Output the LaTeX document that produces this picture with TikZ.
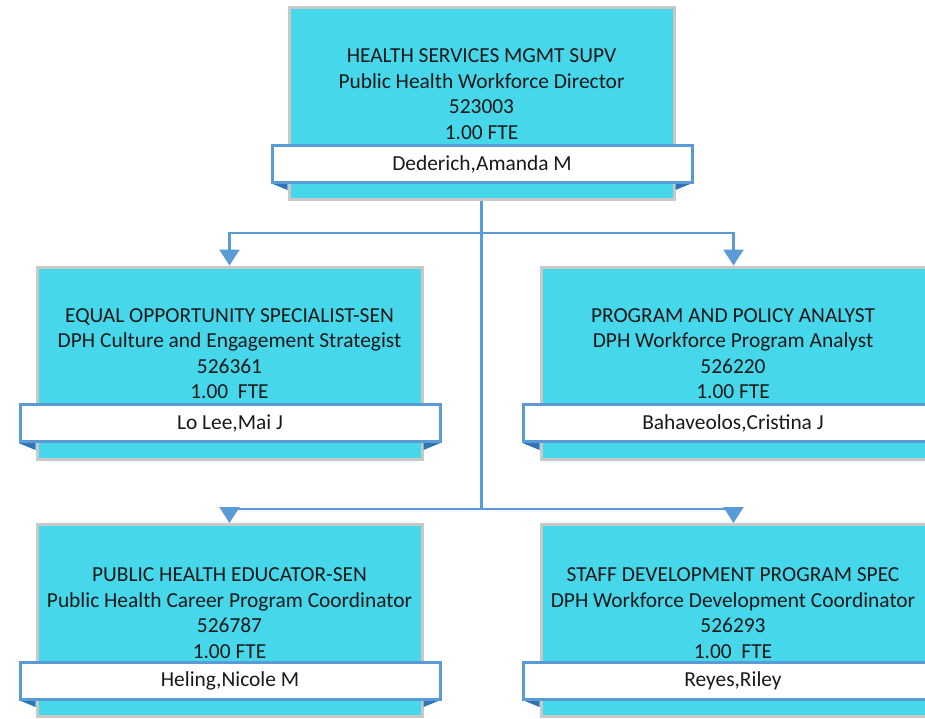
\documentclass[tikz,border=0pt]{standalone}
\usepackage{fontspec}
\setmainfont{Carlito}
\usetikzlibrary{arrows.meta}

\definecolor{boxcyan}{RGB}{70,215,235}
\definecolor{boxgray}{RGB}{200,200,200}
\definecolor{barblue}{RGB}{91,155,213}
\definecolor{folddark}{RGB}{46,117,182}

\tikzset{
  posbox/.style={draw=boxgray, fill=boxcyan, line width=3pt, minimum width=385pt, minimum height=192pt, inner sep=0pt},
  postext/.style={align=center, font=\fontsize{21.4}{25.5}\selectfont, text=black!90},
  namebar/.style={draw=barblue, fill=white, line width=3pt, minimum width=420pt, minimum height=37pt, inner sep=0pt, font=\fontsize{21.4}{25}\selectfont, text=black!90},
  fold/.style={fill=folddark},
  link/.style={draw=barblue, line width=2.5pt},
  linkarrow/.style={link, -{Triangle[width=20pt,length=16pt]}}
}

\begin{document}
\begin{tikzpicture}[x=1pt, y=-1pt]
\useasboundingbox (0,0) rectangle (925,718);

% boxes
\node[posbox] (H0) at (481.5, 103.5) {};
\node[posbox] (P1) at (229.5, 363) {};
\node[posbox] (P2) at (733.5, 363) {};
\node[posbox] (P3) at (229.5, 620.5) {};
\node[posbox] (P4) at (733.5, 620.5) {};

% titles
\node[postext] (T0) at (481.5, 94) {HEALTH SERVICES MGMT SUPV\\Public Health Workforce Director\\523003\\1.00 FTE};
\node[postext] (T1) at (229.5, 353.5) {EQUAL OPPORTUNITY SPECIALIST-SEN\\DPH Culture and Engagement Strategist\\526361\\1.00\ \ FTE};
\node[postext] (T2) at (733, 353.5) {PROGRAM AND POLICY ANALYST\\DPH Workforce Program Analyst\\526220\\1.00 FTE};
\node[postext] (T3) at (229.5, 613) {PUBLIC HEALTH EDUCATOR-SEN\\Public Health Career Program Coordinator\\526787\\1.00 FTE};
\node[postext] (T4) at (733, 613) {STAFF DEVELOPMENT PROGRAM SPEC\\DPH Workforce Development Coordinator\\526293\\1.00\ \ FTE};

% folds under the name bars
\foreach \b/\n/\y in {H0/N0/183, P1/N1/443, P2/N2/443, P3/N3/700, P4/N4/700} {
  \fill[fold] (\b.west |- 0,\y) -- ++(-17,0) -- ++(17,7) -- cycle;
  \fill[fold] (\b.east |- 0,\y) -- ++(17,0) -- ++(-17,7) -- cycle;
}

% name bars
\node[namebar] (N0) at (482, 164) {Dederich,Amanda M};
\node[namebar] (N1) at (230, 423) {Lo Lee,Mai J};
\node[namebar] (N2) at (733, 423) {Bahaveolos,Cristina J};
\node[namebar] (N3) at (230, 681) {Heling,Nicole M};
\node[namebar] (N4) at (733, 681) {Reyes,Riley};

% connectors
\coordinate (J1) at (481.5, 233);
\coordinate (J2) at (481.5, 509);
\draw[link] (H0.south) -- (J2);
\draw[linkarrow] (J1) -| (P1.north);
\draw[linkarrow] (J1) -| (P2.north);
\draw[linkarrow] (J2) -| (P3.north);
\draw[linkarrow] (J2) -| (P4.north);
\end{tikzpicture}
\end{document}
